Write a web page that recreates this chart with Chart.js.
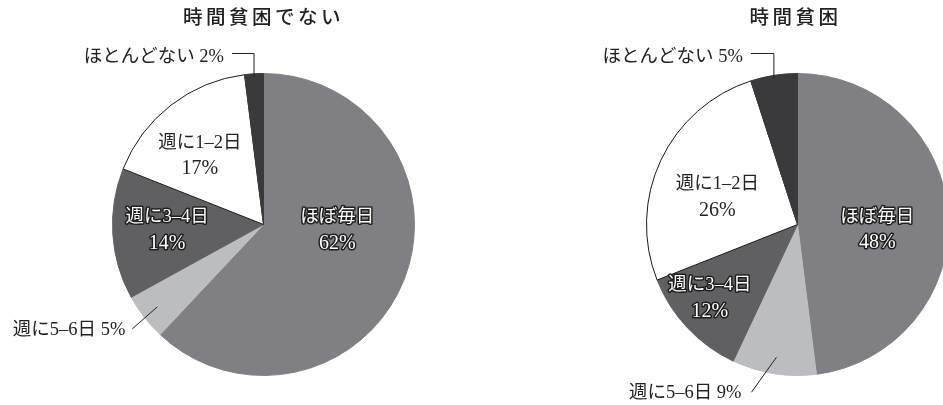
<!DOCTYPE html>
<html lang="ja">
<head>
<meta charset="utf-8">
<title>時間貧困と頻度</title>
<script src="https://cdn.jsdelivr.net/npm/chart.js@4.4.1/dist/chart.umd.min.js"></script>
<style>
  html, body { margin: 0; padding: 0; background: #fff; overflow: hidden; }
  body { width: 943px; height: 405px; position: relative; }
  canvas { position: absolute; top: 0; }
  #left-pie { left: 0; }
  #right-pie { left: 480px; }
</style>
</head>
<body>
<canvas id="left-pie" width="480" height="405"></canvas>
<canvas id="right-pie" width="560" height="405"></canvas>
<script>
// Frequency categories, clockwise from 12 o'clock
const categories = ['ほぼ毎日', '週に5–6日', '週に3–4日', '週に1–2日', 'ほとんどない'];
// Shares (%) for each group
const notPoorValues = [62, 5, 14, 17, 2];
const poorValues = [48, 9, 12, 26, 5];
const chartTitles = ['時間貧困でない', '時間貧困'];

// Slice fills
const SLICE_COLORS = ['#808084', '#bcbdc0', '#606063', '#ffffff', '#3a3a3c'];
const EDGE_COLORS = ['#808084', '#bcbdc0', '#606063', '#1a1a1a', '#3a3a3c'];

const LABEL_FONT = '18.5px "Liberation Serif", "Noto Sans CJK JP", serif';
const NUMBER_FONT = '20px "Liberation Serif", "Noto Sans CJK JP", serif';
const TITLE_FONT = '500 19.5px "Liberation Serif", "Noto Sans CJK JP", serif';

// Draws the title, the in-slice labels and the leader-line labels
const sliceLabels = {
    id: 'sliceLabels',
    afterDatasetsDraw(chart, args, opts) {
        const ctx = chart.ctx;
        const arcs = chart.getDatasetMeta(0).data;
        const values = chart.data.datasets[0].data;
        const first = arcs[0];
        const cx = first.x;
        const cy = first.y;
        const r = first.outerRadius;

        ctx.save();

        // Title
        ctx.font = TITLE_FONT;
        ctx.fillStyle = '#222';
        ctx.textAlign = 'center';
        ctx.textBaseline = 'middle';
        ctx.letterSpacing = '3.5px';
        ctx.fillText(opts.title, cx + opts.titleShift, 19);
        ctx.letterSpacing = '0px';

        // Labels inside the slices
        opts.inner.forEach(function(spec) {
            const arc = arcs[spec.index];
            const mid = (arc.startAngle + arc.endAngle) / 2 + spec.shift * Math.PI / 180;
            const lx = cx + Math.cos(mid) * r * spec.frac;
            const ly = cy + Math.sin(mid) * r * spec.frac;
            const lines = [categories[spec.index], values[spec.index] + '%'];
            lines.forEach(function(text, k) {
                const ty = ly + (k === 0 ? -13 : 13);
                ctx.font = k === 0 ? LABEL_FONT : NUMBER_FONT;
                if (spec.outlined) {
                    ctx.lineJoin = 'round';
                    ctx.lineWidth = 3;
                    ctx.strokeStyle = '#1e1e1e';
                    ctx.strokeText(text, lx, ty);
                    ctx.fillStyle = '#ffffff';
                } else {
                    ctx.fillStyle = '#222';
                }
                ctx.fillText(text, lx, ty);
            });
        });

        ctx.font = LABEL_FONT;
        ctx.strokeStyle = '#222';
        ctx.lineWidth = 1;
        ctx.fillStyle = '#222';
        ctx.textAlign = 'right';

        // Elbow leader for the thin slice at the top
        const elbow = opts.elbow;
        const ea = arcs[elbow.index];
        const emid = (ea.startAngle + ea.endAngle) / 2;
        const ex = cx + Math.cos(emid) * r;
        const ey = cy + Math.sin(emid) * r + 3;
        const lineY = cy - r - 20;
        ctx.beginPath();
        ctx.moveTo(ex, ey);
        ctx.lineTo(ex, lineY);
        ctx.lineTo(ex - elbow.run, lineY);
        ctx.stroke();
        ctx.fillText(categories[elbow.index] + ' ' + values[elbow.index] + '%', ex - elbow.run - 8, lineY + 4);

        // Diagonal leader for the light slice
        const diag = opts.diagonal;
        const da = arcs[diag.index];
        const dmid = (da.startAngle + da.endAngle) / 2;
        const sx = cx + Math.cos(dmid) * r * 0.89;
        const sy = cy + Math.sin(dmid) * r * 0.89;
        const tx = sx + diag.dx;
        const ty = sy + diag.dy;
        ctx.beginPath();
        ctx.moveTo(sx, sy);
        ctx.lineTo(tx, ty);
        ctx.stroke();
        ctx.fillText(categories[diag.index] + ' ' + values[diag.index] + '%', tx - diag.gap, ty + 1);

        ctx.restore();
    }
};

function makePie(canvasId, values, padding, labelOpts) {
    const ctx = document.getElementById(canvasId).getContext('2d');
    return new Chart(ctx, {
        type: 'pie',
        data: {
            labels: categories,
            datasets: [{
                data: values,
                backgroundColor: SLICE_COLORS,
                borderColor: EDGE_COLORS,
                borderWidth: 1
            }]
        },
        options: {
            responsive: false,
            animation: false,
            devicePixelRatio: 1,
            layout: { padding: padding },
            plugins: {
                legend: { display: false },
                tooltip: { enabled: false },
                sliceLabels: labelOpts
            }
        },
        plugins: [sliceLabels]
    });
}

makePie('left-pie', notPoorValues,
    { left: 112, top: 73, right: 65, bottom: 29 },
    {
        title: chartTitles[0],
        titleShift: 0,
        inner: [
            { index: 0, shift: -17, frac: 0.49, outlined: true },
            { index: 2, shift: 0, frac: 0.64, outlined: true },
            { index: 3, shift: -5, frac: 0.62, outlined: false }
        ],
        elbow: { index: 4, run: 22 },
        diagonal: { index: 1, dx: -25, dy: 22, gap: 7 }
    });

makePie('right-pie', poorValues,
    { left: 166, top: 73, right: 91, bottom: 29 },
    {
        title: chartTitles[1],
        titleShift: -2,
        inner: [
            { index: 0, shift: 7.6, frac: 0.53, outlined: true },
            { index: 2, shift: 3, frac: 0.76, outlined: true },
            { index: 3, shift: -6.6, frac: 0.56, outlined: false }
        ],
        elbow: { index: 4, run: 23 },
        diagonal: { index: 1, dx: -25, dy: 35, gap: 10 }
    });
</script>
</body>
</html>
